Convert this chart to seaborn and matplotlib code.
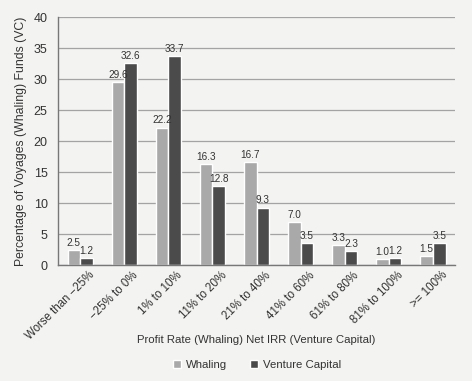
import pandas as pd
import matplotlib
matplotlib.use('Agg')
import matplotlib.pyplot as plt
import matplotlib.transforms as mtrans
import seaborn as sns

# ── Data ─────────────────────────────────────────────────────────────────
categories = ['Worse than \u221225%', '\u221225% to 0%', '1% to 10%', '11% to 20%',
              '21% to 40%', '41% to 60%', '61% to 80%', '81% to 100%', '>= 100%']
whaling = [2.5, 29.6, 22.2, 16.3, 16.7, 7.0, 3.3, 1.0, 1.5]
venture = [1.2, 32.6, 33.7, 12.8, 9.3, 3.5, 2.3, 1.2, 3.5]
series = ['Whaling', 'Venture Capital']

df = pd.DataFrame({
    'Category': categories * 2,
    'Value': whaling + venture,
    'Series': [series[0]] * len(categories) + [series[1]] * len(categories),
})

# ── Style ────────────────────────────────────────────────────────────────
sns.set_style('white')
plt.rcParams['font.family'] = ['Liberation Sans', 'DejaVu Sans']
BG = '#f3f3f1'
TXT = '#333333'

fig = plt.figure(figsize=(4.72, 3.81), dpi=100, facecolor=BG)
ax = fig.add_axes([0.123, 0.304, 0.841, 0.651])
ax.set_facecolor(BG)

sns.barplot(data=df, x='Category', y='Value', hue='Series', order=categories,
            hue_order=series, palette=['#a9a9a9', '#4b4b4b'], width=0.57,
            saturation=1, ax=ax, legend=True)

# value labels; nudge them apart a little so neighbours do not touch
for cont, dx in zip(ax.containers, (-1.5, 1.5)):
    for t in ax.bar_label(cont, fmt='%.1f', padding=1.5, fontsize=7.2, color=TXT):
        t.set_transform(t.get_transform() + mtrans.ScaledTranslation(dx / 100, 0, fig.dpi_scale_trans))

ax.set_ylim(0, 40)
ax.set_yticks(range(0, 41, 5))
ax.yaxis.grid(True, color='#a3a3a3', linewidth=0.9)
ax.set_axisbelow(True)
ax.set_xlim(-0.5, len(categories) - 0.5)

for s in ('top', 'right'):
    ax.spines[s].set_visible(False)
for s in ('left', 'bottom'):
    ax.spines[s].set_color('#777777')
    ax.spines[s].set_linewidth(1.0)

ax.set_xticks([i - 0.5 for i in range(len(categories) + 1)], minor=True)
ax.tick_params(axis='x', which='minor', length=4, color='#777777', direction='out')
ax.tick_params(axis='x', which='major', length=0, pad=3)
ax.tick_params(axis='y', length=4, color='#777777', labelsize=9, labelcolor=TXT)
ax.set_xticks(range(len(categories)))
ax.set_xticklabels(categories, rotation=45, ha='right', rotation_mode='anchor',
                   fontsize=8.3, color=TXT)
shift = mtrans.ScaledTranslation(8 / 100, 0, fig.dpi_scale_trans)
for lab in ax.get_xticklabels():
    lab.set_transform(lab.get_transform() + shift)

ax.set_xlabel('Profit Rate (Whaling) Net IRR (Venture Capital)', fontsize=8.2,
              color=TXT)
ax.xaxis.set_label_coords(0.5, -0.28)
ax.set_ylabel('Percentage of Voyages (Whaling) Funds (VC)', fontsize=8.8,
              color=TXT, labelpad=5)

handles, labels = ax.get_legend_handles_labels()
ax.get_legend().remove()
fig.legend(handles, labels, loc='center', bbox_to_anchor=(0.545, 0.042), ncol=2,
           frameon=False, fontsize=8.2, handlelength=0.7, handleheight=0.7,
           columnspacing=2.0, handletextpad=0.45, labelcolor=TXT)

fig.savefig('out.png', dpi=100, facecolor=BG)
